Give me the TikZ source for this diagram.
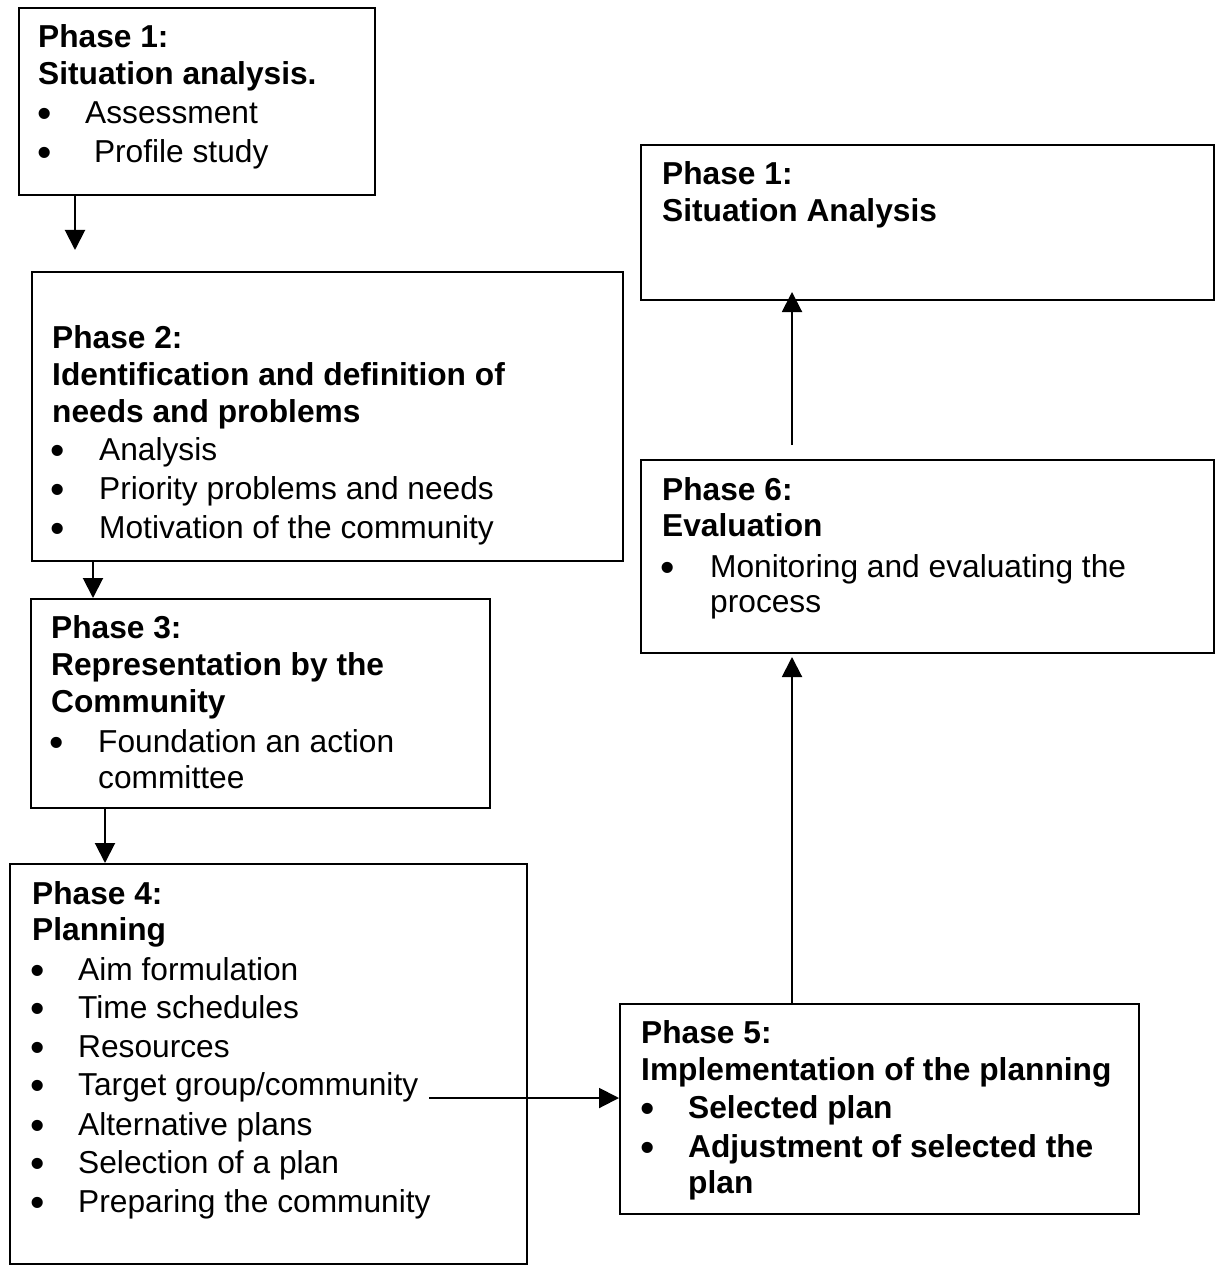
\documentclass[tikz,border=0pt]{standalone}
\usepackage{fontspec}
\setmainfont{Liberation Sans}
\usetikzlibrary{arrows.meta}
\tikzset{
  box/.style={draw=black, line width=2.3pt, fill=none, inner sep=0pt, anchor=north west},
  txt/.style={anchor=base west, inner sep=0pt, font=\fontsize{31.7}{38}\selectfont},
  hd/.style={txt, font=\fontsize{31.7}{38}\selectfont\bfseries},
  bul/.style={anchor=base, inner sep=0pt, font=\fontsize{41}{41}\selectfont},
  arr/.style={line width=2pt, -{Triangle[length=20pt,width=20pt]}},
}
\begin{document}
\begin{tikzpicture}[x=1pt,y=-1pt]
\useasboundingbox (0,0) rectangle (1216,1265);
% boxes
\node[box, minimum width=356pt, minimum height=187pt] (b1) at (18,7) {};
\node[box, minimum width=591pt, minimum height=289pt] (b2) at (31,271) {};
\node[box, minimum width=459pt, minimum height=209pt] (b3) at (30,598) {};
\node[box, minimum width=517pt, minimum height=400pt] (b4) at (9,863) {};
\node[box, minimum width=519pt, minimum height=210pt] (b5) at (619,1003) {};
\node[box, minimum width=573pt, minimum height=193pt] (b6) at (640,459) {};
\node[box, minimum width=573pt, minimum height=155pt] (b7) at (640,144) {};
% box 1
\node[hd] (t1a) at (38,48) {Phase 1:};
\node[hd] (t1b) at (38,85) {Situation analysis.};
\node[bul] (u1a) at (45,128) {•};
\node[txt] (t1c) at (85,124) {Assessment};
\node[bul] (u1b) at (45,167) {•};
\node[txt] (t1d) at (85,163) {\ Profile study};
% box 2
\node[hd] (t2a) at (52,348) {Phase 2:};
\node[hd] (t2b) at (52,385) {Identification and definition of};
\node[hd] (t2c) at (52,422) {needs and problems};
\node[bul] (u2a) at (58,464) {•};
\node[txt] (t2d) at (99,460) {Analysis};
\node[bul] (u2b) at (58,503) {•};
\node[txt] (t2e) at (99,499) {Priority problems and needs};
\node[bul] (u2c) at (58,542) {•};
\node[txt] (t2f) at (99,538) {Motivation of the community};
% box 3
\node[hd] (t3a) at (51,638) {Phase 3:};
\node[hd] (t3b) at (51,675) {Representation by the};
\node[hd] (t3c) at (51,712) {Community};
\node[bul] (u3a) at (57,756) {•};
\node[txt] (t3d) at (98,752) {Foundation an action};
\node[txt] (t3e) at (98,788) {committee};
% box 4
\node[hd] (t4a) at (32,904) {Phase 4:};
\node[hd] (t4b) at (32,940) {Planning};
\node[bul] (u4a) at (38,984) {•};
\node[txt] (t4c) at (78,980) {Aim formulation};
\node[bul] (u4b) at (38,1022) {•};
\node[txt] (t4d) at (78,1018) {Time schedules};
\node[bul] (u4c) at (38,1061) {•};
\node[txt] (t4e) at (78,1057) {Resources};
\node[bul] (u4d) at (38,1099) {•};
\node[txt] (t4f) at (78,1095) {Target group/community};
\node[bul] (u4e) at (38,1139) {•};
\node[txt] (t4g) at (78,1135) {Alternative plans};
\node[bul] (u4f) at (38,1177) {•};
\node[txt] (t4h) at (78,1173) {Selection of a plan};
\node[bul] (u4g) at (38,1216) {•};
\node[txt] (t4i) at (78,1212) {Preparing the community};
% box 5
\node[hd] (t5a) at (641,1043) {Phase 5:};
\node[hd] (t5b) at (641,1080) {Implementation of the planning};
\node[bul] (u5a) at (648,1122) {•};
\node[hd] (t5c) at (688,1118) {Selected plan};
\node[bul] (u5b) at (648,1161) {•};
\node[hd] (t5d) at (688,1157) {Adjustment of selected the};
\node[hd] (t5e) at (688,1193) {plan};
% box 6
\node[hd] (t6a) at (662,500) {Phase 6:};
\node[hd] (t6b) at (662,536) {Evaluation};
\node[bul] (u6a) at (668,581) {•};
\node[txt] (t6c) at (710,577) {Monitoring and evaluating the};
\node[txt] (t6d) at (710,612) {process};
% box 1 (right)
\node[hd] (t7a) at (662,185) {Phase 1:};
\node[hd] (t7b) at (662,222) {Situation Analysis};
% connector helper coordinates
\coordinate (xa) at (75,0);
\coordinate (a1end) at (75,250);
\coordinate (xb) at (93,0);
\coordinate (xc) at (105,0);
\coordinate (h0) at (429,1098);
\coordinate (v5end) at (792,657);
\coordinate (v6start) at (792,445);
\coordinate (v6end) at (792,292);
% connectors
\draw[arr] (b1.south -| xa) -- (a1end);
\draw[arr] (b2.south -| xb) -- (b3.north -| xb);
\draw[arr] (b3.south -| xc) -- (b4.north -| xc);
\draw[arr] (h0) -- (h0 -| b5.west);
\draw[arr] (b5.north -| v5end) -- (v5end);
\draw[arr] (v6start) -- (v6end);
\end{tikzpicture}
\end{document}
